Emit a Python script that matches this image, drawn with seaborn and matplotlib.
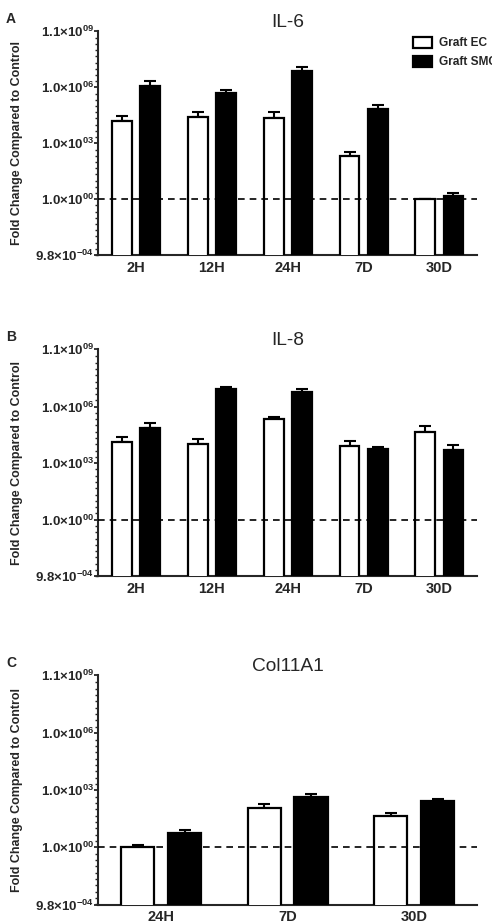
import numpy as np
import pandas as pd
import matplotlib
matplotlib.use("Agg")
import matplotlib.pyplot as plt
import seaborn as sns
from matplotlib.patches import Patch

# values (fold change, mean and upper SEM)
times_long = ["2H", "12H", "24H", "7D", "30D"]
times_short = ["24H", "7D", "30D"]
groups = ["Graft EC", "Graft SMC"]

il6_ec = [1.5e4, 2.6e4, 2.4e4, 210, 1.0]
il6_ec_sem = [1.5e4, 2.4e4, 2.2e4, 140, 0]
il6_smc = [1.2e6, 4.9e5, 7.4e6, 7.2e4, 1.4]
il6_smc_sem = [1.1e6, 2.5e5, 4.6e6, 3.8e4, 0.8]

il8_ec = [1.4e4, 1.1e4, 2.1e5, 8.1e3, 4.7e4]
il8_ec_sem = [1.1e4, 0.8e4, 0.8e5, 6.9e3, 4.2e4]
il8_smc = [7.2e4, 8.7e6, 5.8e6, 5.6e3, 5.0e3]
il8_smc_sem = [6.8e4, 2.3e6, 3.1e6, 1.8e3, 4.1e3]

col_ec = [1.05, 120, 46]
col_ec_sem = [0.35, 70, 17]
col_smc = [5.4, 440, 280]
col_smc_sem = [3.3, 210, 70]

ytick_vals = [9.8e-4, 1.0, 1.0e3, 1.0e6, 1.1e9]
ytick_labels = ["9.8×10$^{-04}$", "1.0×10$^{00}$", "1.0×10$^{03}$",
                "1.0×10$^{06}$", "1.1×10$^{09}$"]

sns.set_style("ticks")
plt.rcParams["font.family"] = ["Liberation Sans", "DejaVu Sans"]
plt.rcParams["mathtext.fontset"] = "custom"
plt.rcParams["mathtext.bf"] = "Liberation Sans:bold"
plt.rcParams["mathtext.rm"] = "Liberation Sans:bold"
plt.rcParams["mathtext.default"] = "bf"

fig = plt.figure(figsize=(4.92, 9.22), dpi=100)

panels = [
    ("A", "IL-6", times_long, il6_ec, il6_ec_sem, il6_smc, il6_smc_sem, [0.1990, 0.7231, 0.7713, 0.2436]),
    ("B", "IL-8", times_long, il8_ec, il8_ec_sem, il8_smc, il8_smc_sem, [0.1990, 0.3749, 0.7713, 0.2462]),
    ("C", "Col11A1", times_short, col_ec, col_ec_sem, col_smc, col_smc_sem, [0.1990, 0.0188, 0.7713, 0.2488]),
]

palette = {"Graft EC": "white", "Graft SMC": "black"}

for letter, title, times, ec, ec_sem, smc, smc_sem, pos in panels:
    ax = fig.add_axes(pos)
    df = pd.DataFrame({
        "time": times * 2,
        "group": [groups[0]] * len(times) + [groups[1]] * len(times),
        "value": ec + smc,
        "sem": ec_sem + smc_sem,
    })
    sns.barplot(data=df, x="time", y="value", hue="group", hue_order=groups,
                order=times, palette=palette, edgecolor="black", linewidth=1.6,
                width=0.74, gap=0.29, errorbar=None, legend=False, ax=ax, zorder=3)
    ax.set_yscale("log")

    # upward-only error bars at each bar (patches are ordered by hue, then time)
    bars = ax.patches
    xs = [b.get_x() + b.get_width() / 2 for b in bars]
    ys = df["value"].values
    errs = df["sem"].values
    ax.errorbar(xs, ys, yerr=[np.zeros(len(ys)), errs], fmt="none", ecolor="black",
                elinewidth=1.5, capsize=4, capthick=1.5, zorder=2)

    ax.axhline(1.0, color="black", lw=1.2, dashes=(4, 3), zorder=4)

    ax.set_ylim(9.8e-4, 1.1e9)
    ax.set_xlim(-0.5, len(times) - 0.5)
    ax.set_yticks(ytick_vals)
    ax.set_yticklabels(ytick_labels, fontsize=9.5, fontweight="bold")
    minor = [10 ** (e / 3) for e in range(-9, 27)]
    ax.yaxis.set_minor_locator(matplotlib.ticker.FixedLocator(minor))
    ax.yaxis.set_minor_formatter(matplotlib.ticker.NullFormatter())
    ax.tick_params(axis="y", which="major", length=3, width=1.3, pad=0)
    ax.tick_params(axis="y", which="minor", length=2.5, width=1.0)
    ax.tick_params(axis="x", length=0, pad=4)
    for lab in ax.get_xticklabels():
        lab.set_fontweight("bold")
        lab.set_fontsize(10.5)
    ax.set_xlabel("")
    ax.set_ylabel("Fold Change Compared to Control", fontsize=9, fontweight="bold")
    ax.yaxis.set_label_coords(-0.198, 0.5)
    ax.set_title(title, fontsize=13.8, pad=2)
    sns.despine(ax=ax)
    ax.spines["left"].set_linewidth(1.5)
    ax.spines["bottom"].set_linewidth(1.5)

    top = pos[1] + pos[3]
    fig.text(0.012, top + 0.013, letter, fontsize=10, fontweight="bold", va="center")

handles = [Patch(facecolor="white", edgecolor="black", linewidth=1.6),
           Patch(facecolor="black", edgecolor="black", linewidth=1.6)]
fig.legend(handles, groups, loc="upper left", bbox_to_anchor=(0.839, 0.960),
           frameon=False, prop={"weight": "bold", "size": 8.6},
           handlelength=1.6, handleheight=1.0, handletextpad=0.6, labelspacing=0.55,
           borderaxespad=0, borderpad=0)

fig.savefig("out.png", dpi=100)
